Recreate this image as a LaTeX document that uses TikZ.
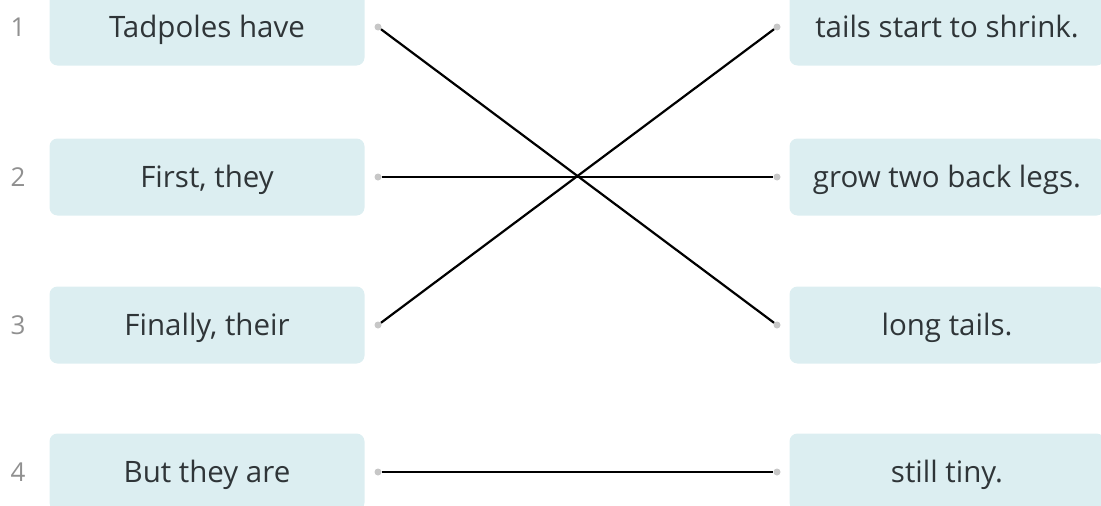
\documentclass[tikz,border=0pt]{standalone}
\usepackage{fontspec}
\setmainfont{Open Sans}
\definecolor{boxblue}{HTML}{DCEEF1}
\definecolor{numgray}{HTML}{909090}
\definecolor{txtgray}{HTML}{2F3538}
\tikzstyle{phrase}=[fill=boxblue,rounded corners=8pt,minimum width=315pt,minimum height=77pt,inner sep=0pt,text height=21pt,text depth=0pt,text=txtgray,font=\fontsize{29.5}{34}\selectfont]
\tikzstyle{num}=[text=numgray,inner sep=0pt,text height=19pt,text depth=0pt,font=\fontsize{26}{30}\selectfont]
\tikzstyle{dot}=[circle,fill=black!22,inner sep=0pt,minimum size=7pt]
\tikzstyle{match}=[line width=2.2pt,black]

\begin{document}
\begin{tikzpicture}[x=1pt,y=-1pt]
	\useasboundingbox (0,0) rectangle (1101,506);
	\foreach \nr/\yy/\lt/\rt in {1/27/Tadpoles have/tails start to shrink.,
		2/177/{First, they}/grow two back legs.,
		3/325/{Finally, their}/long tails.,
		4/472/But they are/still tiny.}{
		\node (N\nr)[num] at (18,\yy) {\nr};
		\node (A\nr)[phrase] at (207,\yy) {\lt};
		\node (B\nr)[phrase] at (947,\yy) {\rt};
		\node (L\nr)[dot] at (378,\yy) {};
		\node (R\nr)[dot] at (777,\yy) {};
	}
	
	\draw[match] (L1) -- (R3);
	\draw[match] (L2) -- (R2);
	\draw[match] (L3) -- (R1);
	\draw[match] (L4) -- (R4);
\end{tikzpicture}
\end{document}
